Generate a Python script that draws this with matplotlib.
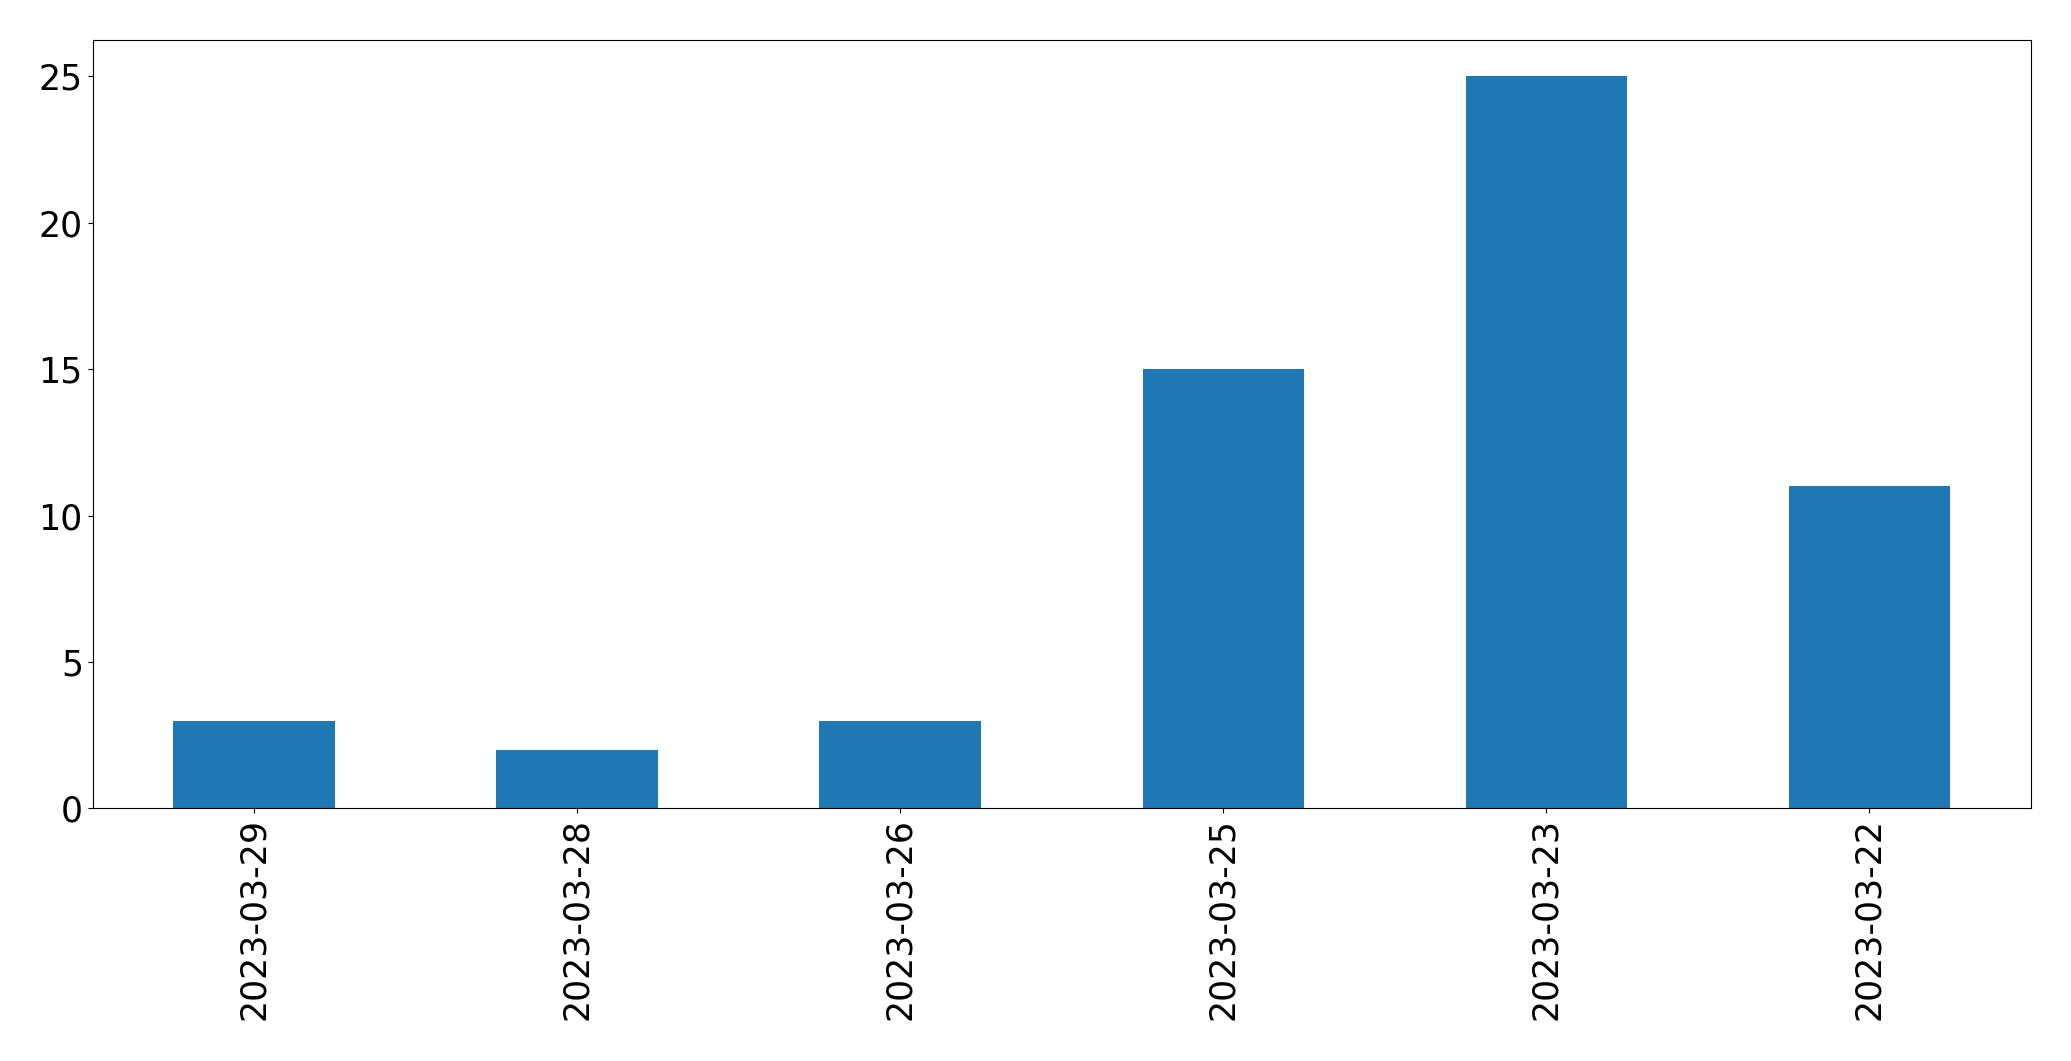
import matplotlib
matplotlib.use("Agg")
import matplotlib.pyplot as plt
import pandas as pd

# daily counts, newest first
dates = ["2023-03-29", "2023-03-28", "2023-03-26", "2023-03-25", "2023-03-23", "2023-03-22"]
counts = [3, 2, 3, 15, 25, 11]

s = pd.Series(counts, index=dates)

fig, ax = plt.subplots(figsize=(20.71, 10.61), dpi=100)
s.plot(kind="bar", ax=ax, color="#1f77b4", fontsize=25)
ax.tick_params(axis="x", labelrotation=90)

plt.subplots_adjust(left=0.0447, right=0.9807, top=0.9627, bottom=0.2380)
plt.savefig("out.png", dpi=100)
